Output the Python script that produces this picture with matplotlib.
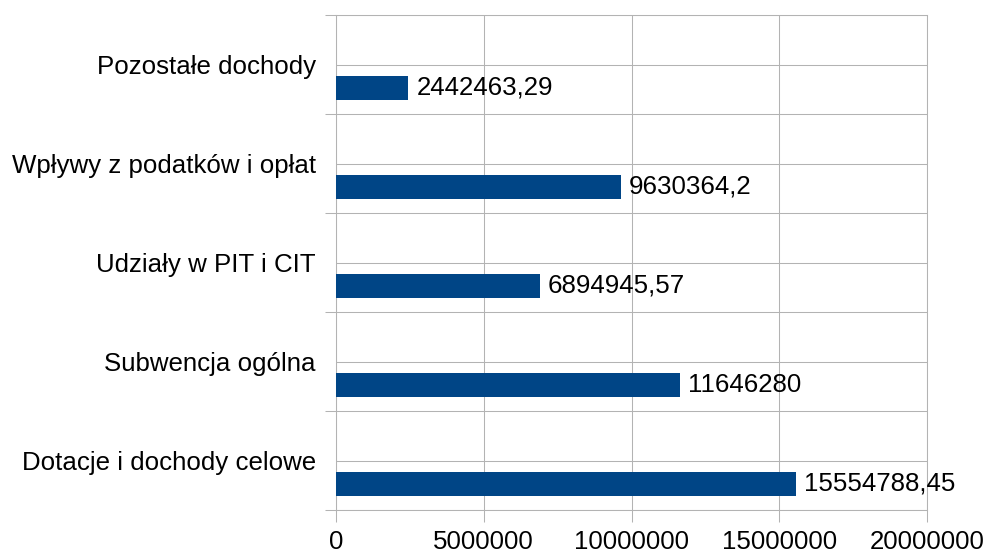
import matplotlib
matplotlib.use("Agg")
import matplotlib.pyplot as plt
from matplotlib.ticker import FixedLocator

categories = ["Dotacje i dochody celowe", "Subwencja ogólna", "Udziały w PIT i CIT",
              "Wpływy z podatków i opłat", "Pozostałe dochody"]
values = [15554788.45, 11646280, 6894945.57, 9630364.2, 2442463.29]
value_labels = ["15554788,45", "11646280", "6894945,57", "9630364,2", "2442463,29"]
xticks = [0, 5000000, 10000000, 15000000, 20000000]
xtick_labels = ["0", "5000000", "10000000", "15000000", "20000000"]

plt.rcParams['font.family'] = ['Liberation Sans', 'DejaVu Sans']
FS = 18.6
GRID = "#b3b3b3"
BAR = "#004586"

fig = plt.figure(figsize=(9.83, 5.54), dpi=100)
ax = fig.add_axes([336/983, 1-510/554, (927-336)/983, (510-15)/554])

pos = list(range(len(categories)))
bar_pos = [p - 0.237 for p in pos]
ax.barh(bar_pos, values, height=0.245, color=BAR, zorder=3)

for y, v, lab in zip(bar_pos, values, value_labels):
    ax.annotate(lab, (v, y), xytext=(6, 0), textcoords="offset points",
                va="center", ha="left", fontsize=FS, color="black", zorder=4)

ax.set_xlim(0, 20000000)
ax.set_ylim(-0.5, 4.5)
ax.set_xticks(xticks)
ax.set_xticklabels(xtick_labels, fontsize=FS)
ax.set_yticks(pos)
ax.set_yticklabels(categories, fontsize=FS)
ax.yaxis.set_minor_locator(FixedLocator([-0.5, 0.5, 1.5, 2.5, 3.5, 4.5]))

ax.tick_params(axis="y", which="major", length=0, pad=14.4)
ax.tick_params(axis="y", which="minor", length=8, width=0.75, color=GRID, direction="out")
ax.tick_params(axis="x", which="major", length=8.6, width=0.75, color=GRID, direction="out", pad=6)

ax.grid(True, axis="x", which="major", color=GRID, linewidth=0.75, zorder=0)
ax.grid(True, axis="y", which="major", color=GRID, linewidth=0.75, zorder=0)
ax.grid(True, axis="y", which="minor", color=GRID, linewidth=0.75, zorder=0)

for s in ax.spines.values():
    s.set_color(GRID)
    s.set_linewidth(0.75)

fig.savefig("out.png", dpi=100)
